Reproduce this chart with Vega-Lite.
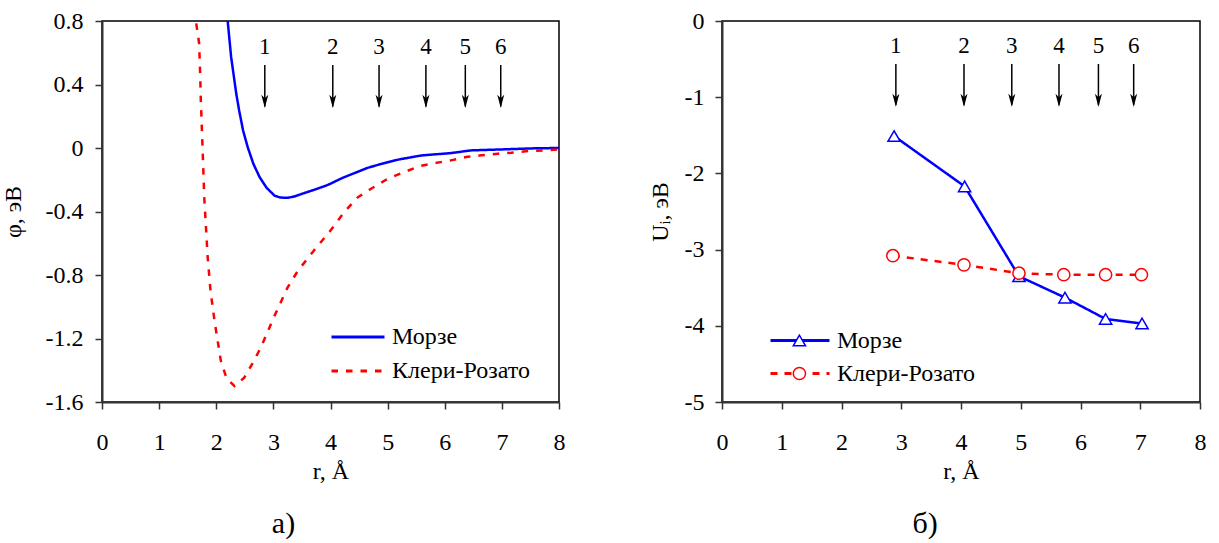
{
  "$schema": "https://vega.github.io/schema/vega-lite/v6.json",
  "background": "white",
  "padding": {"left": 0, "top": 8, "right": 5, "bottom": 0},
  "spacing": 81,
  "config": {
    "font": "Liberation Serif",
    "view": {"stroke": "black", "strokeWidth": 1.5},
    "axis": {
      "labelFont": "Liberation Serif", "labelFontSize": 24, "labelColor": "black",
      "titleFont": "Liberation Serif", "titleFontSize": 24, "titleFontWeight": "normal", "titleColor": "black",
      "domainColor": "#333333", "domainWidth": 2, "tickColor": "#333333", "tickWidth": 1.5, "tickSize": 7,
      "grid": false
    },
    "axisX": {"labelPadding": 21, "titlePadding": 5, "labelFlush": false, "format": "d"},
    "axisY": {"labelPadding": 12},
    "legend": {"labelFont": "Liberation Serif", "labelFontSize": 24, "labelColor": "black", "padding": 0, "rowPadding": 0},
    "title": {"font": "Liberation Serif", "fontSize": 30, "fontWeight": "normal", "color": "black"},
    "text": {"font": "Liberation Serif", "fontSize": 23, "color": "black"}
  },
  "datasets": {
    "phi": [
      {"series": "Морзе", "r": 2.20, "phi": 0.80},
      {"series": "Морзе", "r": 2.26, "phi": 0.575},
      {"series": "Морзе", "r": 2.35, "phi": 0.343},
      {"series": "Морзе", "r": 2.40, "phi": 0.238},
      {"series": "Морзе", "r": 2.47, "phi": 0.11},
      {"series": "Морзе", "r": 2.55, "phi": 0.006},
      {"series": "Морзе", "r": 2.65, "phi": -0.10},
      {"series": "Морзе", "r": 2.76, "phi": -0.184},
      {"series": "Морзе", "r": 2.88, "phi": -0.25},
      {"series": "Морзе", "r": 3.02, "phi": -0.30},
      {"series": "Морзе", "r": 3.12, "phi": -0.312},
      {"series": "Морзе", "r": 3.25, "phi": -0.314},
      {"series": "Морзе", "r": 3.37, "phi": -0.305},
      {"series": "Морзе", "r": 3.49, "phi": -0.29},
      {"series": "Морзе", "r": 3.70, "phi": -0.265},
      {"series": "Морзе", "r": 3.90, "phi": -0.24},
      {"series": "Морзе", "r": 4.00, "phi": -0.225},
      {"series": "Морзе", "r": 4.20, "phi": -0.19},
      {"series": "Морзе", "r": 4.42, "phi": -0.158},
      {"series": "Морзе", "r": 4.65, "phi": -0.125},
      {"series": "Морзе", "r": 4.89, "phi": -0.10},
      {"series": "Морзе", "r": 5.20, "phi": -0.072},
      {"series": "Морзе", "r": 5.59, "phi": -0.047},
      {"series": "Морзе", "r": 6.11, "phi": -0.032},
      {"series": "Морзе", "r": 6.46, "phi": -0.015},
      {"series": "Морзе", "r": 6.99, "phi": -0.009},
      {"series": "Морзе", "r": 7.57, "phi": -0.002},
      {"series": "Морзе", "r": 8.00, "phi": 0.0},
      {"series": "Клери-Розато", "r": 1.65, "phi": 0.785},
      {"series": "Клери-Розато", "r": 1.70, "phi": 0.66},
      {"series": "Клери-Розато", "r": 1.72, "phi": 0.45},
      {"series": "Клери-Розато", "r": 1.73, "phi": 0.30},
      {"series": "Клери-Розато", "r": 1.76, "phi": 0.006},
      {"series": "Клери-Розато", "r": 1.79, "phi": -0.31},
      {"series": "Клери-Розато", "r": 1.85, "phi": -0.689},
      {"series": "Клери-Розато", "r": 1.90, "phi": -0.90},
      {"series": "Клери-Розато", "r": 1.97, "phi": -1.09},
      {"series": "Клери-Розато", "r": 2.08, "phi": -1.34},
      {"series": "Клери-Розато", "r": 2.18, "phi": -1.45},
      {"series": "Клери-Розато", "r": 2.32, "phi": -1.50},
      {"series": "Клери-Розато", "r": 2.49, "phi": -1.447},
      {"series": "Клери-Розато", "r": 2.63, "phi": -1.36},
      {"series": "Клери-Розато", "r": 2.78, "phi": -1.257},
      {"series": "Клери-Розато", "r": 3.02, "phi": -1.057},
      {"series": "Клери-Розато", "r": 3.25, "phi": -0.878},
      {"series": "Клери-Розато", "r": 3.43, "phi": -0.773},
      {"series": "Клери-Розато", "r": 3.70, "phi": -0.65},
      {"series": "Клери-Розато", "r": 4.00, "phi": -0.52},
      {"series": "Клери-Розато", "r": 4.25, "phi": -0.40},
      {"series": "Клери-Розато", "r": 4.48, "phi": -0.31},
      {"series": "Клери-Розато", "r": 4.71, "phi": -0.257},
      {"series": "Клери-Розато", "r": 5.00, "phi": -0.194},
      {"series": "Клери-Розато", "r": 5.29, "phi": -0.152},
      {"series": "Клери-Розато", "r": 5.56, "phi": -0.114},
      {"series": "Клери-Розато", "r": 5.82, "phi": -0.095},
      {"series": "Клери-Розато", "r": 6.11, "phi": -0.078},
      {"series": "Клери-Розато", "r": 6.37, "phi": -0.057},
      {"series": "Клери-Розато", "r": 6.64, "phi": -0.046},
      {"series": "Клери-Розато", "r": 6.93, "phi": -0.036},
      {"series": "Клери-Розато", "r": 7.16, "phi": -0.030},
      {"series": "Клери-Розато", "r": 7.46, "phi": -0.019},
      {"series": "Клери-Розато", "r": 7.75, "phi": -0.015},
      {"series": "Клери-Розато", "r": 8.00, "phi": -0.008}
    ],
    "energy": [
      {"series": "Морзе", "r": 2.88, "U": -1.51},
      {"series": "Морзе", "r": 4.06, "U": -2.17},
      {"series": "Морзе", "r": 4.97, "U": -3.35},
      {"series": "Морзе", "r": 5.74, "U": -3.63},
      {"series": "Морзе", "r": 6.42, "U": -3.91},
      {"series": "Морзе", "r": 7.03, "U": -3.97},
      {"series": "Клери-Розато", "r": 2.86, "U": -3.08},
      {"series": "Клери-Розато", "r": 4.05, "U": -3.20},
      {"series": "Клери-Розато", "r": 4.97, "U": -3.31},
      {"series": "Клери-Розато", "r": 5.72, "U": -3.33},
      {"series": "Клери-Розато", "r": 6.42, "U": -3.33},
      {"series": "Клери-Розато", "r": 7.02, "U": -3.33}
    ],
    "shellsA": [
      {"r": 2.85, "n": "1"}, {"r": 4.04, "n": "2"}, {"r": 4.85, "n": "3"},
      {"r": 5.67, "n": "4"}, {"r": 6.36, "n": "5"}, {"r": 6.98, "n": "6"}
    ],
    "shellsB": [
      {"r": 2.91, "n": "1"}, {"r": 4.05, "n": "2"}, {"r": 4.85, "n": "3"},
      {"r": 5.64, "n": "4"}, {"r": 6.30, "n": "5"}, {"r": 6.89, "n": "6"}
    ]
  },
  "resolve": {
    "scale": {"x": "independent", "y": "independent", "color": "independent", "strokeDash": "independent", "shape": "independent", "stroke": "independent"},
    "legend": {"color": "independent", "strokeDash": "independent", "shape": "independent", "stroke": "independent"}
  },
  "hconcat": [
    {
      "width": 457,
      "height": 381,
      "title": {"text": "а)", "orient": "bottom", "anchor": "middle", "offset": 26, "dx": -47},
      "layer": [
        {
          "data": {"name": "phi"},
          "mark": {"type": "line", "strokeWidth": 2.5, "clip": true},
          "encoding": {
            "x": {"field": "r", "type": "quantitative", "scale": {"domain": [0, 8], "nice": false, "zero": false},
                  "axis": {"values": [0, 1, 2, 3, 4, 5, 6, 7, 8], "title": "r, Å"}},
            "y": {"field": "phi", "type": "quantitative", "scale": {"domain": [-1.6, 0.8], "nice": false, "zero": false},
                  "axis": {"values": [-1.6, -1.2, -0.8, -0.4, 0, 0.4, 0.8], "title": "φ, эВ", "titlePadding": 20,
                           "labelExpr": "datum.value < 0 ? '-' + format(-datum.value, '~g') : format(datum.value, '~g')"}},
            "color": {"field": "series", "type": "nominal",
                      "scale": {"domain": ["Морзе", "Клери-Розато"], "range": ["#0000ff", "#ff0000"]},
                      "legend": {"orient": "none", "legendX": 228, "legendY": 299, "title": null, "symbolType": "stroke",
                                 "symbolSize": 2809, "symbolStrokeWidth": 3, "clipHeight": 34, "labelOffset": 6}},
            "strokeDash": {"field": "series", "type": "nominal",
                           "scale": {"domain": ["Морзе", "Клери-Розато"], "range": [[1, 0], [6.5, 8]]},
                           "legend": {"orient": "none", "legendX": 228, "legendY": 299, "title": null, "symbolType": "stroke",
                                      "symbolSize": 2809, "symbolStrokeWidth": 3, "clipHeight": 34, "labelOffset": 6}}
          }
        },
        {
          "data": {"name": "shellsA"},
          "mark": {"type": "rule", "color": "black", "strokeWidth": 1.5},
          "encoding": {
            "x": {"field": "r", "type": "quantitative"},
            "y": {"datum": 0.523},
            "y2": {"datum": 0.262}
          }
        },
        {
          "data": {"name": "shellsA"},
          "mark": {"type": "point", "shape": "M0,0 L-0.25,-0.95 L0,-0.7 L0.25,-0.95 Z", "filled": true, "color": "black", "opacity": 1, "size": 784},
          "encoding": {
            "x": {"field": "r", "type": "quantitative"},
            "y": {"datum": 0.252}
          }
        },
        {
          "data": {"name": "shellsA"},
          "mark": {"type": "text", "baseline": "middle", "align": "center"},
          "encoding": {
            "x": {"field": "r", "type": "quantitative"},
            "y": {"datum": 0.636},
            "text": {"field": "n"}
          }
        }
      ]
    },
    {
      "width": 478,
      "height": 381,
      "title": {"text": "б)", "orient": "bottom", "anchor": "middle", "offset": 26, "dx": -36},
      "layer": [
        {
          "data": {"name": "energy"},
          "mark": {"type": "line", "strokeWidth": 2.5},
          "encoding": {
            "x": {"field": "r", "type": "quantitative", "scale": {"domain": [0, 8], "nice": false, "zero": false},
                  "axis": {"values": [0, 1, 2, 3, 4, 5, 6, 7, 8], "title": "r, Å"}},
            "y": {"field": "U", "type": "quantitative", "scale": {"domain": [-5, 0], "nice": false, "zero": false},
                  "axis": {"values": [-5, -4, -3, -2, -1, 0], "title": "Uᵢ, эВ", "titlePadding": 12, "labelPadding": 11,
                           "labelExpr": "datum.value < 0 ? '-' + format(-datum.value, '~g') : format(datum.value, '~g')"}},
            "color": {"field": "series", "type": "nominal",
                      "scale": {"domain": ["Морзе", "Клери-Розато"], "range": ["#0000ff", "#ff0000"]},
                      "legend": {"orient": "none", "legendX": 47, "legendY": 303, "title": null, "symbolType": "stroke",
                                 "symbolSize": 3481, "symbolStrokeWidth": 3, "clipHeight": 33, "labelOffset": 6}},
            "strokeDash": {"field": "series", "type": "nominal",
                           "scale": {"domain": ["Морзе", "Клери-Розато"], "range": [[1, 0], [7, 7]]},
                           "legend": {"orient": "none", "legendX": 47, "legendY": 303, "title": null, "symbolType": "stroke",
                                      "symbolSize": 3481, "symbolStrokeWidth": 3, "clipHeight": 33, "labelOffset": 6}}
          }
        },
        {
          "data": {"name": "energy"},
          "mark": {"type": "point", "filled": false, "fill": "white", "fillOpacity": 1, "opacity": 1, "strokeWidth": 1.5, "size": 150},
          "encoding": {
            "x": {"field": "r", "type": "quantitative"},
            "y": {"field": "U", "type": "quantitative"},
            "stroke": {"field": "series", "type": "nominal",
                       "scale": {"domain": ["Морзе", "Клери-Розато", "_"], "range": ["#0000ff", "#ff0000", "#000000"]},
                       "legend": {"orient": "none", "legendX": 47, "legendY": 303, "title": null, "values": ["Морзе", "Клери-Розато"],
                                  "symbolSize": 150, "symbolStrokeWidth": 1.5, "clipHeight": 33, "symbolOffset": 23.4, "labelOpacity": 0,
                                  "labelFontSize": 1, "labelLimit": 1, "symbolFillColor": "white", "symbolOpacity": 1}},
            "shape": {"field": "series", "type": "nominal",
                      "scale": {"domain": ["Морзе", "Клери-Розато", "_"], "range": ["triangle-up", "circle", "square"]},
                      "legend": {"orient": "none", "legendX": 47, "legendY": 303, "title": null, "values": ["Морзе", "Клери-Розато"],
                                 "symbolSize": 150, "symbolStrokeWidth": 1.5, "clipHeight": 33, "symbolOffset": 23.4, "labelOpacity": 0,
                                 "labelFontSize": 1, "labelLimit": 1, "symbolFillColor": "white", "symbolOpacity": 1}}
          }
        },
        {
          "data": {"name": "shellsB"},
          "mark": {"type": "rule", "color": "black", "strokeWidth": 1.5},
          "encoding": {
            "x": {"field": "r", "type": "quantitative"},
            "y": {"datum": -0.564},
            "y2": {"datum": -1.10}
          }
        },
        {
          "data": {"name": "shellsB"},
          "mark": {"type": "point", "shape": "M0,0 L-0.25,-0.95 L0,-0.7 L0.25,-0.95 Z", "filled": true, "color": "black", "opacity": 1, "size": 784},
          "encoding": {
            "x": {"field": "r", "type": "quantitative"},
            "y": {"datum": -1.129}
          }
        },
        {
          "data": {"name": "shellsB"},
          "mark": {"type": "text", "baseline": "middle", "align": "center"},
          "encoding": {
            "x": {"field": "r", "type": "quantitative"},
            "y": {"datum": -0.328},
            "text": {"field": "n"}
          }
        }
      ]
    }
  ]
}
